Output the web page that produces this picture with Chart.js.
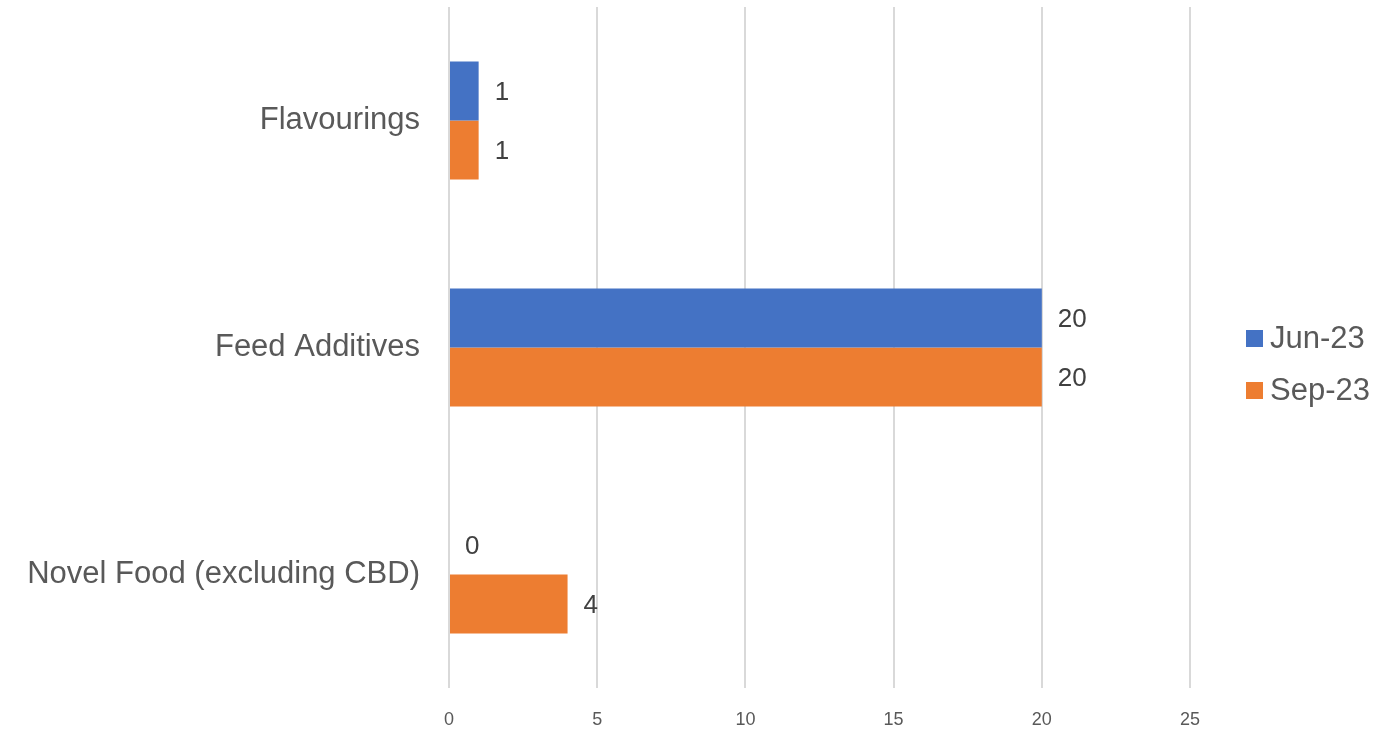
<!DOCTYPE html>
<html>
<head>
<meta charset="utf-8">
<script src="https://cdn.jsdelivr.net/npm/chart.js@4"></script>
<style>
  html, body { margin: 0; padding: 0; background: #fff; }
  #wrap { width: 1381px; height: 729px; position: relative; }
</style>
</head>
<body>
<div id="wrap"><canvas id="c"></canvas></div>
<script>
// chart data
const categories = ["Flavourings", "Feed Additives", "Novel Food (excluding CBD)"];
const seriesNames = ["Jun-23", "Sep-23"];
const jun23 = [1, 20, 0];
const sep23 = [1, 20, 4];
const seriesColors = ["#4472C4", "#ED7D31"];
const xTicks = [0, 5, 10, 15, 20, 25];

const FONT = "'Liberation Sans', Arial, sans-serif";

// draws the value next to each bar end
const valueLabels = {
  id: "valueLabels",
  afterDatasetsDraw(chart) {
    const ctx = chart.ctx;
    ctx.save();
    ctx.font = "26px " + FONT;
    ctx.fillStyle = "#404040";
    ctx.textAlign = "left";
    ctx.textBaseline = "middle";
    chart.data.datasets.forEach((ds, i) => {
      chart.getDatasetMeta(i).data.forEach((bar, j) => {
        ctx.fillText(String(ds.data[j]), bar.x + 16, bar.y + 2);
      });
    });
    ctx.restore();
  }
};

// legend on the right, Excel style
const sideLegend = {
  id: "sideLegend",
  afterDraw(chart) {
    const ctx = chart.ctx;
    ctx.save();
    ctx.font = "31px " + FONT;
    ctx.textBaseline = "middle";
    seriesNames.forEach((name, i) => {
      const y = 338 + i * 52;
      ctx.fillStyle = seriesColors[i];
      ctx.fillRect(1246, y - 8, 17, 17);
      ctx.fillStyle = "#595959";
      ctx.fillText(name, 1270, y + 1);
    });
    ctx.restore();
  }
};

new Chart(document.getElementById("c"), {
  type: "bar",
  data: {
    labels: categories,
    datasets: [
      { label: seriesNames[0], data: jun23, backgroundColor: seriesColors[0] },
      { label: seriesNames[1], data: sep23, backgroundColor: seriesColors[1] }
    ]
  },
  options: {
    indexAxis: "y",
    responsive: true,
    maintainAspectRatio: false,
    animation: false,
    layout: { padding: { top: 7, right: 191, left: 0, bottom: 0 } },
    datasets: { bar: { barPercentage: 1, categoryPercentage: 0.52 } },
    plugins: { legend: { display: false }, tooltip: { enabled: false } },
    scales: {
      x: {
        min: 0,
        max: 25,
        afterBuildTicks: (s) => { s.ticks = xTicks.map(v => ({ value: v })); },
        afterFit: (s) => { s.height = 41; s.paddingLeft = 0; s.paddingRight = 0; },
        border: { display: false },
        grid: { color: "#d9d9d9", lineWidth: 2, drawTicks: false },
        ticks: { color: "#595959", font: { size: 18, family: FONT }, padding: 21 }
      },
      y: {
        afterFit: (s) => { s.width = 449; s.paddingTop = 0; s.paddingBottom = 0; },
        border: { display: false },
        grid: { display: false },
        ticks: { color: "#595959", font: { size: 31, family: FONT }, padding: 21 }
      }
    }
  },
  plugins: [valueLabels, sideLegend]
});
</script>
</body>
</html>
